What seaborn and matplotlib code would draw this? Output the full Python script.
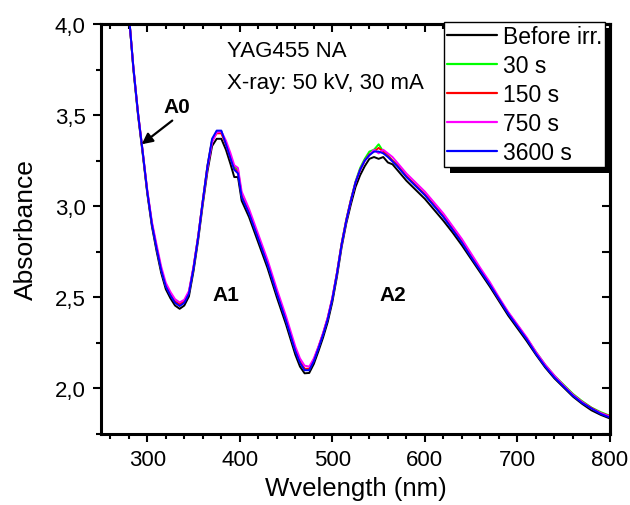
import pandas as pd
import matplotlib
matplotlib.use('Agg')
import matplotlib.pyplot as plt
import seaborn as sns
from matplotlib.ticker import MultipleLocator, FuncFormatter
from matplotlib.lines import Line2D
from matplotlib.patches import Rectangle

# wavelength grid (nm) shared by every spectrum
wavelength = [278, 281, 285, 290, 295, 300, 305, 310, 315, 320,
              325, 330, 335, 340, 345, 350, 355, 360, 365, 370,
              375, 380, 385, 390, 394, 398, 402, 410, 420, 430,
              440, 450, 460, 465, 470, 475, 480, 485, 490, 495,
              500, 505, 510, 515, 520, 525, 530, 535, 540, 545,
              550, 555, 560, 565, 570, 580, 590, 600, 610, 620,
              630, 640, 650, 660, 670, 680, 690, 700, 710, 720,
              730, 740, 750, 760, 770, 780, 790, 800]

before_irr = [4.12, 4.00, 3.75, 3.50, 3.29, 3.07, 2.89, 2.755, 2.635, 2.545,
              2.495, 2.455, 2.437, 2.455, 2.505, 2.645, 2.815, 3.01, 3.19, 3.33,
              3.37, 3.37, 3.31, 3.23, 3.16, 3.16, 3.03, 2.94, 2.80, 2.66,
              2.50, 2.35, 2.185, 2.12, 2.083, 2.085, 2.135, 2.205, 2.28, 2.365,
              2.475, 2.615, 2.775, 2.905, 3.01, 3.105, 3.17, 3.22, 3.26, 3.27,
              3.26, 3.27, 3.24, 3.23, 3.20, 3.14, 3.09, 3.04, 2.98, 2.92,
              2.855, 2.785, 2.71, 2.635, 2.56, 2.48, 2.40, 2.33, 2.26, 2.185,
              2.115, 2.055, 2.005, 1.955, 1.915, 1.88, 1.855, 1.835]

irr_30s = [4.12, 4.00, 3.76, 3.51, 3.30, 3.08, 2.905, 2.775, 2.655, 2.565,
           2.515, 2.475, 2.46, 2.477, 2.527, 2.665, 2.835, 3.03, 3.22, 3.36,
           3.41, 3.41, 3.35, 3.27, 3.215, 3.20, 3.06, 2.965, 2.825, 2.685,
           2.525, 2.375, 2.21, 2.145, 2.105, 2.105, 2.155, 2.225, 2.30, 2.385,
           2.495, 2.635, 2.795, 2.925, 3.035, 3.135, 3.21, 3.26, 3.30, 3.31,
           3.34, 3.30, 3.28, 3.25, 3.23, 3.165, 3.115, 3.065, 3.005, 2.945,
           2.875, 2.805, 2.725, 2.65, 2.575, 2.495, 2.415, 2.345, 2.275, 2.20,
           2.13, 2.07, 2.02, 1.97, 1.93, 1.895, 1.87, 1.85]

irr_150s = [4.12, 4.00, 3.76, 3.51, 3.30, 3.08, 2.905, 2.775, 2.655, 2.565,
            2.515, 2.477, 2.462, 2.478, 2.527, 2.665, 2.835, 3.03, 3.22, 3.36,
            3.40, 3.40, 3.34, 3.26, 3.205, 3.19, 3.06, 2.965, 2.827, 2.687,
            2.527, 2.377, 2.212, 2.148, 2.108, 2.108, 2.158, 2.228, 2.302, 2.387,
            2.495, 2.635, 2.795, 2.925, 3.035, 3.13, 3.20, 3.25, 3.285, 3.30,
            3.32, 3.30, 3.275, 3.25, 3.225, 3.165, 3.115, 3.065, 3.005, 2.945,
            2.875, 2.805, 2.725, 2.65, 2.575, 2.49, 2.415, 2.345, 2.275, 2.195,
            2.125, 2.065, 2.015, 1.965, 1.925, 1.893, 1.865, 1.848]

irr_750s = [4.12, 4.00, 3.765, 3.515, 3.305, 3.09, 2.915, 2.79, 2.67, 2.58,
            2.53, 2.49, 2.472, 2.487, 2.535, 2.67, 2.835, 3.03, 3.21, 3.35,
            3.405, 3.41, 3.36, 3.29, 3.225, 3.21, 3.08, 2.985, 2.845, 2.705,
            2.545, 2.395, 2.23, 2.165, 2.125, 2.12, 2.165, 2.23, 2.305, 2.39,
            2.50, 2.635, 2.79, 2.92, 3.03, 3.13, 3.20, 3.25, 3.28, 3.31,
            3.29, 3.31, 3.29, 3.27, 3.24, 3.18, 3.13, 3.08, 3.02, 2.96,
            2.89, 2.82, 2.74, 2.66, 2.585, 2.50, 2.42, 2.35, 2.28, 2.20,
            2.13, 2.07, 2.015, 1.965, 1.925, 1.89, 1.865, 1.845]

irr_3600s = [4.12, 4.00, 3.76, 3.51, 3.30, 3.08, 2.90, 2.77, 2.65, 2.56,
             2.51, 2.47, 2.452, 2.47, 2.52, 2.66, 2.83, 3.03, 3.22, 3.37,
             3.415, 3.415, 3.34, 3.26, 3.20, 3.18, 3.05, 2.96, 2.82, 2.68,
             2.52, 2.37, 2.205, 2.14, 2.10, 2.10, 2.15, 2.22, 2.295, 2.38,
             2.49, 2.63, 2.79, 2.92, 3.03, 3.13, 3.20, 3.25, 3.28, 3.30,
             3.30, 3.29, 3.27, 3.245, 3.22, 3.16, 3.11, 3.06, 3.00, 2.94,
             2.87, 2.80, 2.72, 2.645, 2.57, 2.49, 2.41, 2.34, 2.27, 2.19,
             2.12, 2.06, 2.01, 1.96, 1.92, 1.89, 1.86, 1.84]

labels = ['Before irr.', '30 s', '150 s', '750 s', '3600 s']
colors = ['#000000', '#00ff00', '#ff0000', '#ff00ff', '#0000ff']

frames = []
for lab, vals in zip(labels, [before_irr, irr_30s, irr_150s, irr_750s, irr_3600s]):
    frames.append(pd.DataFrame({'wavelength': wavelength, 'absorbance': vals, 'sample': lab}))
df = pd.concat(frames, ignore_index=True)

sns.set_style('ticks', {'axes.edgecolor': 'black', 'xtick.color': 'black',
                        'ytick.color': 'black', 'text.color': 'black',
                        'axes.labelcolor': 'black'})
plt.rcParams['font.family'] = ['Liberation Sans', 'DejaVu Sans']

fig = plt.figure(figsize=(6.3, 5.06), dpi=100)
ax = fig.add_axes([101 / 630, 1 - 435 / 506, 509 / 630, 410 / 506])
ax.patch.set_facecolor('none')

sns.lineplot(data=df, x='wavelength', y='absorbance', hue='sample', hue_order=labels,
             palette=dict(zip(labels, colors)), estimator=None, sort=False,
             linewidth=1.4, legend=False, ax=ax)

ax.set_xlim(250, 800)
ax.set_ylim(1.75, 4.0)
ax.xaxis.set_major_locator(MultipleLocator(100))
ax.xaxis.set_minor_locator(MultipleLocator(20))
ax.yaxis.set_major_locator(MultipleLocator(0.5))
ax.yaxis.set_minor_locator(MultipleLocator(0.25))
ax.yaxis.set_major_formatter(FuncFormatter(lambda v, p: f'{v:.1f}'.replace('.', ',')))
ax.tick_params(which='both', direction='out', width=1.5, colors='black', labelsize=16, pad=5)
ax.tick_params(which='major', length=6)
ax.tick_params(which='minor', length=3.5)
for sp in ax.spines.values():
    sp.set_linewidth(2.2)
    sp.set_color('black')

# mirrored inward ticks on top and right
top = ax.secondary_xaxis('top')
top.xaxis.set_major_locator(MultipleLocator(100))
top.xaxis.set_minor_locator(MultipleLocator(20))
top.tick_params(which='both', direction='in', width=1.5, colors='black', labeltop=False)
top.tick_params(which='major', length=6)
top.tick_params(which='minor', length=3.5)
top.spines['top'].set_linewidth(2.2)
top.spines['top'].set_color('black')
right = ax.secondary_yaxis('right')
right.yaxis.set_major_locator(MultipleLocator(0.5))
right.yaxis.set_minor_locator(MultipleLocator(0.25))
right.tick_params(which='both', direction='in', width=1.5, length=6, colors='black',
                  labelright=False)
right.spines['right'].set_linewidth(2.2)
right.spines['right'].set_color('black')

ax.set_xlabel('Wvelength (nm)', fontsize=18.5, labelpad=4)
ax.set_ylabel('Absorbance', fontsize=19, labelpad=12)

ax.text(386, 3.853, 'YAG455 NA', fontsize=16, va='center', ha='left')
ax.text(386, 3.68, 'X-ray: 50 kV, 30 mA', fontsize=16, va='center', ha='left')
ax.text(332, 3.545, 'A0', fontsize=15, fontweight='bold', ha='center', va='center')
ax.annotate('', xy=(294, 3.34), xytext=(327, 3.47),
            arrowprops=dict(arrowstyle='-|>', color='black', lw=1.6, mutation_scale=16,
                            shrinkA=0, shrinkB=0))
ax.text(385, 2.514, 'A1', fontsize=15, fontweight='bold', ha='center', va='center')
ax.text(565, 2.518, 'A2', fontsize=15, fontweight='bold', ha='center', va='center')

handles = [Line2D([], [], color=c, lw=1.6) for c in colors]
leg = ax.legend(handles, labels, loc='upper right', bbox_to_anchor=(0.99, 1.005),
                borderaxespad=0, fontsize=16.5, handlelength=2.2, handletextpad=0.25,
                labelspacing=0.27, borderpad=0.12, fancybox=False, framealpha=1,
                edgecolor='black')
leg.get_frame().set_linewidth(1.0)
leg.set_zorder(6)

# solid black drop shadow under the legend box
fig.canvas.draw()
bb = leg.get_frame().get_window_extent(fig.canvas.get_renderer())
inv = fig.transFigure.inverted()
(x0, y0), (x1, y1) = inv.transform([(bb.x0 + 6, bb.y0 - 6), (bb.x1 + 6, bb.y1 - 6)])
ax.add_patch(Rectangle((x0, y0), x1 - x0, y1 - y0, transform=fig.transFigure,
                       facecolor='black', edgecolor='none', clip_on=False, zorder=5.5))

fig.savefig('out.png', dpi=100)
